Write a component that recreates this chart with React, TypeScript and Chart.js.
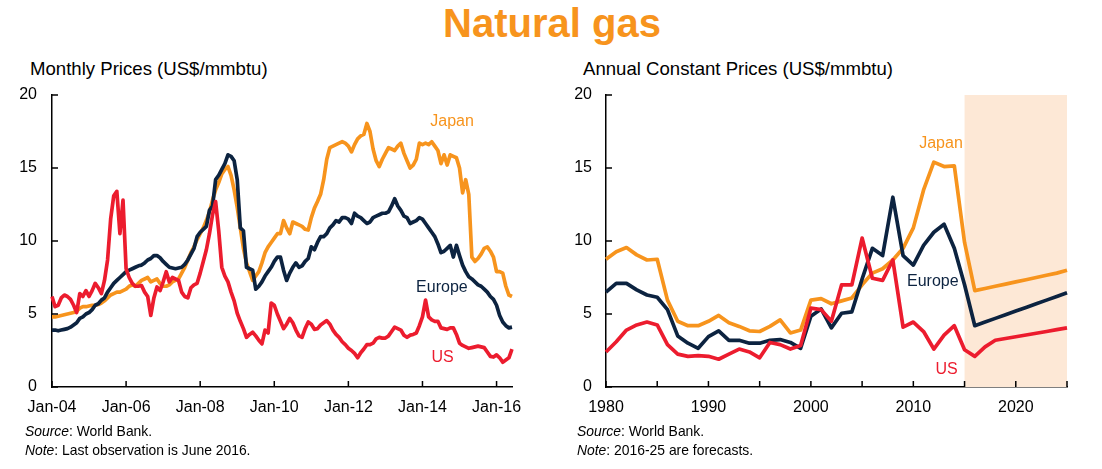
import React, { useEffect, useRef } from 'react';
import { Chart, registerables } from 'chart.js';

Chart.register(...registerables);

const FONT = '"Liberation Sans", Arial, Helvetica, sans-serif';
const JAPAN_COLOR = '#F7941D';
const EUROPE_COLOR = '#0C2340';
const US_COLOR = '#EC1C2E';
const SHADE_COLOR = '#FDE8D6';

// ---------- Monthly data (Jan-04 .. Jun-16) ----------
const MONTH_NAMES = ['Jan', 'Feb', 'Mar', 'Apr', 'May', 'Jun', 'Jul', 'Aug', 'Sep', 'Oct', 'Nov', 'Dec'];
const MONTH_START_YEAR = 2004;
const MONTH_COUNT = 150;
const monthLabels: string[] = Array.from({ length: MONTH_COUNT }, (_, i) => {
  const yr = MONTH_START_YEAR + Math.floor(i / 12);
  return `${MONTH_NAMES[i % 12]}-${String(yr % 100).padStart(2, '0')}`;
});
const MONTH_TICK_EVERY = 24;

const japanMonthly = [
  4.8, 4.8, 4.85, 4.9, 4.95, 5.0, 5.05, 5.1, 5.2, 5.4, 5.5, 5.5,
  5.55, 5.6, 5.6, 5.65, 5.75, 5.9, 6.1, 6.3, 6.4, 6.5, 6.5, 6.6,
  6.7, 6.9, 7.0, 6.9, 7.1, 7.3, 7.4, 7.5, 7.2, 7.3, 7.4, 7.1,
  6.9, 6.9, 7.0, 7.2, 7.3, 7.4, 7.8, 8.2, 8.7, 9.2, 9.6, 10.1,
  10.5, 10.9, 11.4, 12.0, 12.8, 13.5, 14.0, 14.6, 14.9, 15.1, 14.5, 13.5,
  12.3, 10.9, 9.5, 8.5, 7.9, 7.3, 7.6, 7.9, 8.5, 9.2, 9.6, 9.9,
  10.2, 10.5, 10.5, 11.4, 10.9, 10.5, 11.3, 11.2, 11.1, 11.0, 10.8, 10.75,
  11.6, 12.25, 12.7, 13.2, 14.2, 15.6, 16.4, 16.5, 16.6, 16.7, 16.8, 16.7,
  16.5, 16.1, 16.6, 17.0, 17.2, 17.3, 18.05, 17.5, 16.3, 15.5, 15.1, 15.6,
  16.0, 16.4, 16.3, 16.2, 16.5, 16.7, 16.0, 15.5, 15.0, 15.2, 15.6, 16.7,
  16.6, 16.7, 16.6, 16.8, 16.5, 16.2, 15.3, 15.9, 15.2, 15.9, 15.8, 15.7,
  15.0, 13.3, 14.2, 13.2, 8.9, 8.6, 8.8, 9.1, 9.5, 9.6, 9.3, 8.9,
  7.9, 7.9, 7.8, 6.9, 6.3, 6.2,
];

const europeMonthly = [
  3.9, 3.9, 3.85, 3.9, 3.95, 4.0, 4.1, 4.25, 4.4, 4.7, 4.8, 5.0,
  5.1, 5.3, 5.6, 5.7, 5.95, 6.1, 6.5, 6.8, 7.1, 7.3, 7.5, 7.7,
  7.9, 8.0, 8.1, 8.2, 8.3, 8.35, 8.5, 8.7, 8.8, 9.0, 9.0, 8.85,
  8.6, 8.4, 8.2, 8.15, 8.1, 8.15, 8.2, 8.4, 8.7, 9.1, 9.5, 10.3,
  10.6, 10.8, 11.0, 12.1, 12.4, 14.2, 14.5, 14.9, 15.3, 15.9, 15.8, 15.5,
  14.2, 10.9, 10.7, 8.2, 8.1, 8.0, 6.7, 6.9, 7.2, 7.6, 7.9, 8.2,
  8.6, 8.9, 8.9, 8.0, 7.3, 7.8, 8.2, 8.5, 8.2, 8.3, 8.6, 8.8,
  9.6, 9.4, 9.9, 10.3, 10.3, 10.5, 10.9, 11.1, 11.4, 11.3, 11.6, 11.6,
  11.5, 11.2, 11.9, 11.7, 11.6, 11.4, 11.2, 11.3, 11.6, 11.7, 11.8, 11.9,
  11.9, 12.0, 12.4, 12.9, 12.4, 12.1, 11.7, 11.6, 11.2, 11.3, 11.4, 11.6,
  11.5, 11.2, 10.9, 10.6, 10.3, 9.8, 9.2, 9.3, 9.5, 9.7, 8.9, 9.7,
  9.0, 8.35, 7.9, 7.55, 7.4, 7.2, 7.0, 6.9, 6.7, 6.5, 6.2, 6.0,
  5.6, 4.9, 4.45, 4.2, 4.05, 4.1,
];

const usMonthly = [
  6.2, 5.5, 5.6, 6.1, 6.3, 6.2, 6.0, 5.6, 5.1, 6.4, 6.2, 6.6,
  6.2, 6.6, 7.1, 6.8, 6.4, 7.3, 8.7, 11.5, 13.1, 13.4, 10.5, 12.8,
  8.1, 7.5, 7.1, 6.9, 6.9, 6.95, 6.5, 6.2, 4.9, 6.1, 6.85, 6.6,
  7.2, 7.9, 7.2, 7.5, 7.4, 7.3, 6.5, 6.2, 6.1, 6.8, 7.0, 7.1,
  7.8, 8.6, 9.4, 10.5, 11.8, 12.7, 10.7, 8.2, 7.6, 7.2, 6.5, 5.9,
  5.05, 4.5, 4.0, 3.4, 3.6, 3.75, 3.5, 3.2, 2.95, 3.9, 3.7, 5.75,
  5.6, 5.0, 4.5, 4.0, 4.3, 4.7, 4.4, 3.9, 3.5, 3.4, 4.0, 4.45,
  4.3, 3.95, 4.0, 4.25, 4.4, 4.55, 4.3, 3.9, 3.6, 3.4, 3.1, 2.9,
  2.65, 2.5, 2.3, 2.0, 2.35, 2.6, 2.9, 2.9, 3.0, 3.3, 3.4, 3.35,
  3.35, 3.5, 3.8, 4.1, 4.0, 3.9, 3.55, 3.4, 3.55, 3.6, 3.7, 4.2,
  4.8, 5.95, 4.8, 4.6, 4.5, 4.5, 4.05, 4.0, 3.95, 4.05, 4.05, 3.6,
  3.0, 2.85, 2.75, 2.65, 2.7, 2.75, 2.8, 2.75, 2.7, 2.4, 2.1, 2.05,
  2.2, 2.0, 1.7, 1.85, 2.0, 2.6,
];

// ---------- Annual constant-price data (1980 .. 2025) ----------
const years: number[] = Array.from({ length: 46 }, (_, i) => 1980 + i);
const FORECAST_START = 2015;
const YEAR_TICK_EVERY = 5;
const YEAR_LABEL_EVERY = 10;

const japanAnnual = [
  8.75, 9.27, 9.55, 9.05, 8.7, 8.75, 5.95, 4.5, 4.2, 4.2,
  4.5, 4.9, 4.4, 4.15, 3.85, 3.8, 4.15, 4.6, 3.7, 3.9,
  5.95, 6.05, 5.7, 5.9, 6.1, 7.0, 7.8, 8.1, 8.7, 9.5,
  10.9, 13.5, 15.4, 15.1, 15.15, 9.9, 6.6, 6.75, 6.9, 7.05,
  7.2, 7.35, 7.5, 7.65, 7.8, 8.0,
];
const europeAnnual = [
  6.5, 7.1, 7.1, 6.65, 6.3, 6.15, 5.3, 3.5, 3.0, 2.65,
  3.45, 3.85, 3.2, 3.2, 3.0, 3.0, 3.2, 3.25, 3.05, 2.65,
  4.85, 5.35, 4.05, 5.05, 5.15, 7.4, 9.5, 9.0, 13.0, 9.0,
  8.35, 9.7, 10.6, 11.15, 9.5, 7.0, 4.2, 4.45, 4.7, 4.95,
  5.2, 5.45, 5.7, 5.95, 6.2, 6.45,
];
const usAnnual = [
  2.4, 3.1, 3.9, 4.25, 4.45, 4.25, 2.9, 2.25, 2.1, 2.15,
  2.1, 1.9, 2.25, 2.6, 2.4, 2.0, 3.05, 2.9, 2.6, 2.85,
  5.4, 5.3, 4.5, 7.0, 7.0, 10.2, 7.45, 7.3, 8.7, 4.1,
  4.45, 3.8, 2.6, 3.55, 4.2, 2.55, 2.1, 2.75, 3.2, 3.32,
  3.44, 3.56, 3.68, 3.8, 3.93, 4.05,
];

const Y_MIN = 0;
const Y_MAX = 20;
const Y_STEP = 5;

type SeriesLabel = { text: string; x: number; y: number; color: string };

const monthlySeriesLabels: SeriesLabel[] = [
  { text: 'Japan', x: 129.6, y: 18.15, color: JAPAN_COLOR },
  { text: 'Europe', x: 126.3, y: 6.8, color: EUROPE_COLOR },
  { text: 'US', x: 126.5, y: 2.0, color: US_COLOR },
];
const annualSeriesLabels: SeriesLabel[] = [
  { text: 'Japan', x: 32.7, y: 16.7, color: JAPAN_COLOR },
  { text: 'Europe', x: 31.9, y: 7.2, color: EUROPE_COLOR },
  { text: 'US', x: 33.25, y: 1.16, color: US_COLOR },
];

const decorPlugin = {
  id: 'decor',
  beforeDatasetsDraw(chart: any, _args: any, opts: any) {
    if (opts.shadeFrom == null) return;
    const { ctx, chartArea, scales } = chart;
    const x0 = scales.x.getPixelForValue(opts.shadeFrom);
    const x1 = scales.x.getPixelForValue(opts.shadeTo);
    ctx.save();
    ctx.fillStyle = SHADE_COLOR;
    ctx.fillRect(x0, chartArea.top, x1 - x0, chartArea.bottom - chartArea.top);
    ctx.restore();
  },
  afterDraw(chart: any, _args: any, opts: any) {
    const { ctx, chartArea, scales } = chart;
    const { x, y } = scales;
    ctx.save();
    ctx.strokeStyle = '#000';
    ctx.lineWidth = 1.5;
    ctx.beginPath();
    y.ticks.forEach((t: any) => {
      const py = y.getPixelForValue(t.value);
      ctx.moveTo(chartArea.left, py);
      ctx.lineTo(chartArea.left + 6, py);
    });
    x.ticks.forEach((t: any) => {
      const px = x.getPixelForValue(t.value);
      ctx.moveTo(px, chartArea.bottom);
      ctx.lineTo(px, chartArea.bottom - 6);
    });
    ctx.stroke();
    ctx.font = `16px ${FONT}`;
    ctx.textAlign = 'center';
    ctx.textBaseline = 'middle';
    (opts.labels || []).forEach((l: SeriesLabel) => {
      ctx.fillStyle = l.color;
      ctx.fillText(l.text, x.getPixelForValue(l.x), y.getPixelForValue(l.y));
    });
    ctx.restore();
  },
};

function lineDataset(label: string, data: number[], color: string) {
  return {
    label,
    data,
    borderColor: color,
    backgroundColor: color,
    borderWidth: 3.7,
    pointRadius: 0,
    tension: 0,
    fill: false,
    borderJoinStyle: 'round' as const,
  };
}

function buildConfig(opts: {
  labels: (string | number)[];
  datasets: any[];
  yWidth: number;
  yPad: number;
  rightPad: number;
  tickFilter: (v: number) => boolean;
  tickLabel: (v: number) => string;
  seriesLabels: SeriesLabel[];
  shadeFrom?: number;
  shadeTo?: number;
}) {
  return {
    type: 'line' as const,
    data: { labels: opts.labels, datasets: opts.datasets },
    plugins: [decorPlugin],
    options: {
      animation: false as const,
      responsive: false,
      maintainAspectRatio: false,
      devicePixelRatio: 1,
      layout: { padding: { top: 95, right: opts.rightPad, bottom: 52, left: 0 } },
      plugins: {
        legend: { display: false },
        tooltip: { enabled: false },
        decor: { labels: opts.seriesLabels, shadeFrom: opts.shadeFrom, shadeTo: opts.shadeTo },
      },
      scales: {
        x: {
          type: 'category' as const,
          grid: { display: false, drawTicks: false },
          border: { display: true, color: '#000', width: 1.5 },
          ticks: {
            autoSkip: false,
            maxRotation: 0,
            minRotation: 0,
            padding: 11,
            color: '#000',
            font: { size: 16, family: FONT },
            callback: (v: any) => opts.tickLabel(Number(v)),
          },
          afterBuildTicks: (s: any) => {
            s.ticks = s.ticks.filter((t: any) => opts.tickFilter(t.value));
          },
          afterFit: (s: any) => {
            s.height = 30;
          },
        },
        y: {
          min: Y_MIN,
          max: Y_MAX,
          grid: { display: false, drawTicks: false },
          border: { display: true, color: '#000', width: 1.5 },
          ticks: {
            stepSize: Y_STEP,
            padding: opts.yPad,
            color: '#000',
            font: { size: 16, family: FONT },
          },
          afterFit: (s: any) => {
            s.width = opts.yWidth;
          },
        },
      },
    },
  };
}

function ChartCanvas({ config, left }: { config: any; left: number }) {
  const ref = useRef<HTMLCanvasElement | null>(null);
  useEffect(() => {
    if (!ref.current) return;
    const chart = new Chart(ref.current, config);
    return () => chart.destroy();
  }, [config]);
  return (
    <canvas
      ref={ref}
      width={551}
      height={469}
      style={{ position: 'absolute', left, top: 0, width: 551, height: 469 }}
    />
  );
}

const monthlyConfig = buildConfig({
  labels: monthLabels,
  datasets: [
    lineDataset('US', usMonthly, US_COLOR),
    lineDataset('Europe', europeMonthly, EUROPE_COLOR),
    lineDataset('Japan', japanMonthly, JAPAN_COLOR),
  ],
  yWidth: 52,
  yPad: 15,
  rightPad: 39,
  tickFilter: (v) => v % MONTH_TICK_EVERY === 0,
  tickLabel: (v) => monthLabels[v] ?? '',
  seriesLabels: monthlySeriesLabels,
});

const annualConfig = buildConfig({
  labels: years,
  datasets: [
    lineDataset('US', usAnnual, US_COLOR),
    lineDataset('Europe', europeAnnual, EUROPE_COLOR),
    lineDataset('Japan', japanAnnual, JAPAN_COLOR),
  ],
  yWidth: 55,
  yPad: 14,
  rightPad: 35,
  tickFilter: (v) => v % YEAR_TICK_EVERY === 0,
  tickLabel: (v) => (years[v] % YEAR_LABEL_EVERY === 0 ? String(years[v]) : ''),
  seriesLabels: annualSeriesLabels,
  shadeFrom: years.indexOf(FORECAST_START),
  shadeTo: years.length - 1,
});

const textBase: React.CSSProperties = {
  position: 'absolute',
  whiteSpace: 'nowrap',
  fontFamily: FONT,
  color: '#000',
};

const subtitleStyle: React.CSSProperties = { ...textBase, top: 60, fontSize: 18.6, lineHeight: '18.6px' };
const noteStyle: React.CSSProperties = { ...textBase, fontSize: 13.9, lineHeight: '13.9px' };

export default function App() {
  return (
    <div
      style={{
        position: 'absolute',
        left: 0,
        top: 0,
        width: 1102,
        height: 469,
        background: '#fff',
        overflow: 'hidden',
        fontFamily: FONT,
      }}
    >
      <div
        style={{
          ...textBase,
          left: 0,
          width: 1104,
          top: 3,
          textAlign: 'center',
          fontSize: 40,
          lineHeight: '40px',
          fontWeight: 'bold',
          color: JAPAN_COLOR,
        }}
      >
        Natural gas
      </div>
      <div style={{ ...subtitleStyle, left: 30 }}>Monthly Prices (US$/mmbtu)</div>
      <div style={{ ...subtitleStyle, left: 583 }}>Annual Constant Prices (US$/mmbtu)</div>
      <ChartCanvas config={monthlyConfig} left={0} />
      <ChartCanvas config={annualConfig} left={551} />
      <div style={{ ...noteStyle, left: 25, top: 425 }}>
        <i>Source</i>: World Bank.
      </div>
      <div style={{ ...noteStyle, left: 25, top: 444 }}>
        <i>Note</i>: Last observation is June 2016.
      </div>
      <div style={{ ...noteStyle, left: 577, top: 425 }}>
        <i>Source</i>: World Bank.
      </div>
      <div style={{ ...noteStyle, left: 577, top: 444 }}>
        <i>Note</i>: 2016-25 are forecasts.
      </div>
    </div>
  );
}
